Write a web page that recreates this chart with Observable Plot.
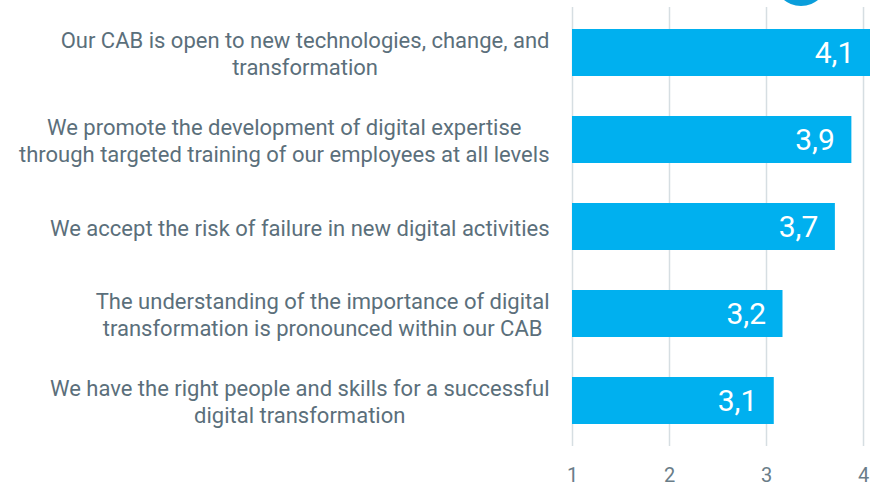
<!DOCTYPE html>
<html>
<head>
<meta charset="utf-8">
<script src="https://cdn.jsdelivr.net/npm/d3@7"></script>
<script src="https://cdn.jsdelivr.net/npm/@observablehq/plot@0.6"></script>
<style>
  html, body { margin: 0; padding: 0; background: #fff; }
  #wrap { position: relative; width: 870px; height: 484px; overflow: hidden; }
  #badge { position: absolute; left: 774px; top: -48px; width: 54px; height: 54px; border-radius: 50%; background: #0a9edb; }
  svg { display: block; }
</style>
</head>
<body>
<div id="wrap"><div id="badge"></div></div>
<script>
const statements = [
  "Our CAB is open to new technologies, change, and\ntransformation",
  "We promote the development of digital expertise\nthrough targeted training of our employees at all levels",
  "We accept the risk of failure in new digital activities",
  "The understanding of the importance of digital\ntransformation is pronounced within our CAB",
  "We have the right people and skills for a successful\ndigital transformation"
];
const scores = [4.08, 3.88, 3.71, 3.17, 3.08];
const xTicks = [1, 2, 3, 4];

const data = statements.map((s, i) => ({statement: s, score: scores[i]}));
const fmt = v => (Math.round(v * 10) / 10).toFixed(1).replace(".", ",");

const chart = Plot.plot({
  width: 870,
  height: 484,
  marginLeft: 572,
  marginRight: 0,
  marginTop: 7,
  marginBottom: 38,
  style: {fontFamily: "Roboto, sans-serif", background: "transparent", overflow: "visible"},
  x: {domain: [1, 4.072], ticks: xTicks, axis: null},
  y: {domain: statements, paddingInner: 0.4545, paddingOuter: 0.222, axis: null},
  marks: [
    Plot.gridX(xTicks, {stroke: "#d6dee2", strokeOpacity: 1, strokeWidth: 1.5}),
    Plot.barX(data, {x1: 1, x2: "score", y: "statement", fill: "#00b0ef", clip: true}),
    Plot.text(data, {x: "score", y: "statement", text: d => fmt(d.score), textAnchor: "end", dx: -17, fill: "#ffffff", fontSize: 30}),
    Plot.axisX(xTicks, {tickSize: 0, tickPadding: 21, fontSize: 20, fill: "#6a7d88", label: null}),
    Plot.axisY(statements, {tickSize: 0, tickPadding: 23, fontSize: 22, fill: "#5b6f7b", lineHeight: 1.23, label: null})
  ]
});
document.getElementById("wrap").prepend(chart);

// center each multi-line label block, keeping its right edge at the axis padding
const groups = chart.querySelectorAll('g[aria-label^="y-axis tick label"]');
groups.forEach(g => {
  g.setAttribute("text-anchor", "middle");
  g.querySelectorAll("text").forEach(t => {
    t.setAttribute("text-anchor", "end");
    const w = t.getBBox().width;
    t.setAttribute("text-anchor", "middle");
    const tr = t.getAttribute("transform") || "";
    t.setAttribute("transform", tr + ` translate(${-w / 2},0)`);
  });
});
</script>
</body>
</html>
